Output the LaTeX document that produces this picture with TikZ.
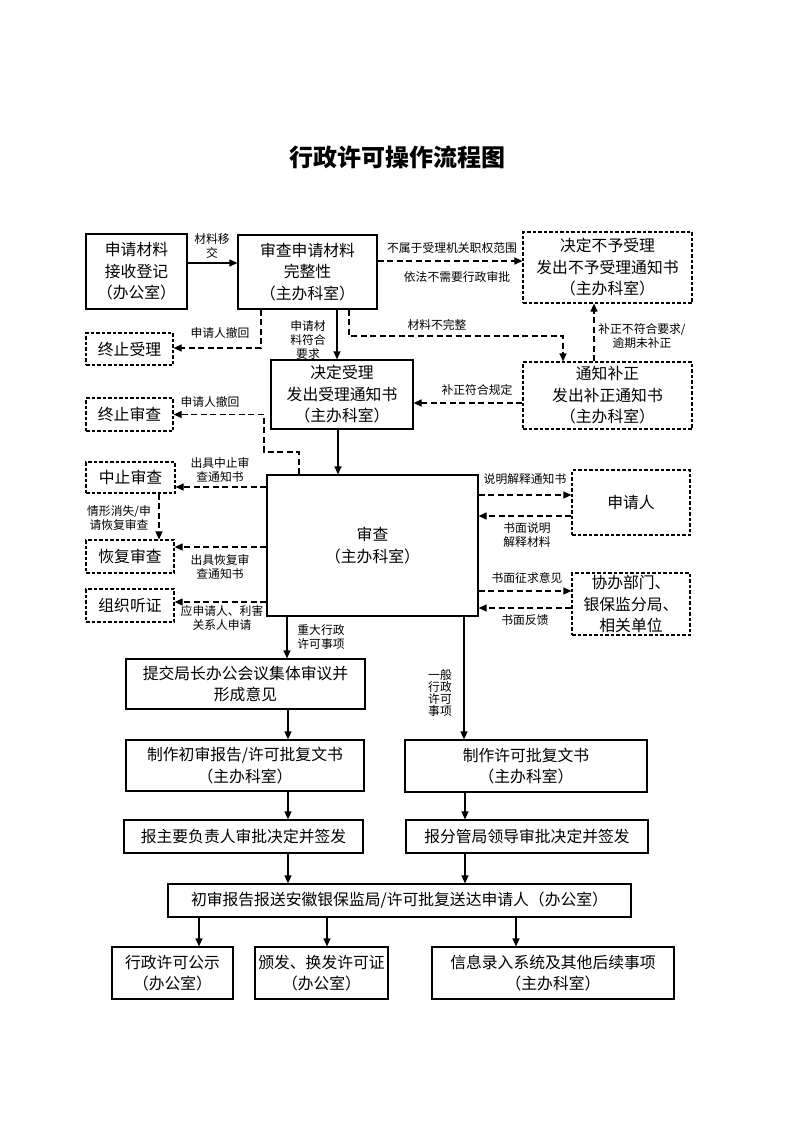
\documentclass[tikz,border=0pt]{standalone}
\usepackage{fontspec}
\newfontfamily\cjk{Noto Sans CJK SC}
\usetikzlibrary{arrows.meta}
\newcommand\mybox[7]{\node[#2,minimum width={#5-#3},minimum height={#6-#4}] (#1) at ({(#3+#5)/2},{(#4+#6)/2}) {#7};}
\begin{document}
\begin{tikzpicture}[x=1pt,y=-1pt,
  box/.style={draw,line width=1.2pt,inner sep=0pt,align=center,font=\cjk\fontsize{15.8}{21.5}\selectfont},
  dbox/.style={box,dash pattern=on 3.5pt off 2pt},
  arr/.style={line width=1.2pt,-{Triangle[length=8pt,width=7pt]}},
  darr/.style={arr,dash pattern=on 6pt off 3.5pt},
  lab/.style={font=\cjk\fontsize{11.8}{13.8}\selectfont,align=center,inner sep=0pt},
]
\useasboundingbox[fill=white] (0,0) rectangle (793,1122);

\node[font=\cjk\bfseries\fontsize{24}{28}\selectfont] (title) at (397,157) {行政许可操作流程图};

% boxes
\mybox{apply}{box}{86}{234}{187}{309}{申请材料\\接收登记\\（办公室）}
\mybox{check}{box}{238}{235}{377}{309}{审查申请材料\\完整性\\（主办科室）}
\mybox{refuse}{dbox}{523}{232}{692}{303}{决定不予受理\\发出不予受理通知书\\（主办科室）}
\mybox{stopa}{dbox}{86}{333}{173}{365}{终止受理}
\mybox{accept}{box}{271}{360}{413}{429}{决定受理\\发出受理通知书\\（主办科室）}
\mybox{notify}{dbox}{523}{362}{692}{429}{通知补正\\发出补正通知书\\（主办科室）}
\mybox{stopb}{dbox}{86}{398}{173}{431}{终止审查}
\mybox{suspend}{dbox}{86}{462}{175}{493}{中止审查}
\mybox{review}{box}{267}{475}{478}{616}{审查\\（主办科室）}
\mybox{resume}{dbox}{86}{540}{174}{573}{恢复审查}
\mybox{hearing}{dbox}{86}{589}{174}{622}{组织听证}
\mybox{applicant}{dbox}{572}{470}{690}{535}{申请人}
\mybox{coop}{dbox}{572}{573}{690}{635}{协办部门、\\银保监分局、\\相关单位}
\mybox{meeting}{box}{126}{659}{365}{709}{提交局长办公会议集体审议并\\形成意见}
\mybox{drafta}{box}{126}{740}{364}{791}{制作初审报告/许可批复文书\\（主办科室）}
\mybox{draftb}{box}{405}{740}{647}{792}{制作许可批复文书\\（主办科室）}
\mybox{signa}{box}{124}{820}{363}{853}{报主要负责人审批决定并签发}
\mybox{signb}{box}{406}{820}{648}{853}{报分管局领导审批决定并签发}
\mybox{send}{box}{168}{884}{631}{917}{初审报告报送安徽银保监局/许可批复送达申请人（办公室）}
\mybox{pub}{box}{112}{947}{233}{999}{行政许可公示\\（办公室）}
\mybox{issue}{box}{255}{947}{388}{999}{颁发、换发许可证\\（办公室）}
\mybox{info}{box}{432}{947}{674}{999}{信息录入系统及其他后续事项\\（主办科室）}

% connectors top
\draw[arr] (apply.east |- 0,263) -- (check.west |- 0,263);
\node[lab] (l1) at (212,246) {材料移\\交};

\draw[darr] (check.east |- 0,261) -- (refuse.west |- 0,261);
\node[lab] (l2) at (452,248) {不属于受理机关职权范围};
\node[lab] (l3) at (457,277) {依法不需要行政审批};

\draw[darr] (check.south -| 261,0) |- (stopa.east |- 0,348);
\node[lab] (l4) at (220,333) {申请人撤回};

\draw[arr] (check.south -| 337,0) -- (accept.north -| 337,0);
\node[lab] (l5) at (308,340) {申请材\\料符合\\要求};

\coordinate (c1) at (563,336);
\draw[darr] (check.south -| 349,0) |- (c1) -- (notify.north -| c1);
\node[lab] (l6) at (437,325) {材料不完整};

\draw[darr] (notify.north -| 594,0) -- (refuse.south -| 594,0);
\node[lab] (l7) at (642,336) {补正不符合要求/\\逾期未补正};

\draw[darr] (notify.west |- 0,403) -- (accept.east |- 0,403);
\node[lab] (l8) at (477,390) {补正符合规定};

\draw[arr] (accept.south -| 338,0) -- (review.north -| 338,0);

% left side
\coordinate (c2) at (299,452);
\coordinate (c3) at (264,452);
\draw[darr] (review.north -| c2) -- (c2) -- (c3) |- (stopb.east);
\node[lab] (l9) at (210,402) {申请人撤回};

\draw[darr] (review.west |- 0,487) -- (suspend.east |- 0,487);
\node[lab] (l10) at (220,470) {出具中止审\\查通知书};

\draw[darr] (suspend.south -| 159,0) -- (resume.north -| 159,0);
\node[lab] (l11) at (119,518) {情形消失/申\\请恢复审查};

\draw[darr] (review.west |- 0,547) -- (resume.east |- 0,547);
\node[lab] (l12) at (220,567) {出具恢复审\\查通知书};

\draw[darr] (review.west |- 0,602) -- (hearing.east |- 0,602);
\node[lab] (l13) at (222,618) {应申请人、利害\\关系人申请};

% right side
\draw[darr] (review.east |- 0,495) -- (applicant.west |- 0,495);
\node[lab] (l14) at (525,479) {说明解释通知书};
\draw[darr] (applicant.west |- 0,516) -- (review.east |- 0,516);
\node[lab] (l15) at (527,535) {书面说明\\解释材料};

\draw[darr] (review.east |- 0,591) -- (coop.west |- 0,591);
\node[lab] (l16) at (527,578) {书面征求意见};
\draw[darr] (coop.west |- 0,608) -- (review.east |- 0,608);
\node[lab] (l17) at (525,620) {书面反馈};

% lower flow
\draw[arr] (review.south -| 287,0) -- (meeting.north -| 287,0);
\node[lab] (l18) at (321,637) {重大行政\\许可事项};

\draw[arr] (review.south -| 464,0) -- (draftb.north -| 464,0);
\node[lab,font=\cjk\fontsize{11.8}{11.8}\selectfont] (l19) at (440,693) {一般\\行政\\许可\\事项};

\draw[arr] (meeting.south -| 288,0) -- (drafta.north -| 288,0);
\draw[arr] (drafta.south -| 288,0) -- (signa.north -| 288,0);
\draw[arr] (signa.south -| 288,0) -- (send.north -| 288,0);
\draw[arr] (draftb.south -| 465,0) -- (signb.north -| 465,0);
\draw[arr] (signb.south -| 465,0) -- (send.north -| 465,0);

\draw[arr] (send.south -| 199,0) -- (pub.north -| 199,0);
\draw[arr] (send.south -| 327,0) -- (issue.north -| 327,0);
\draw[arr] (send.south -| 516,0) -- (info.north -| 516,0);
\end{tikzpicture}
\end{document}
